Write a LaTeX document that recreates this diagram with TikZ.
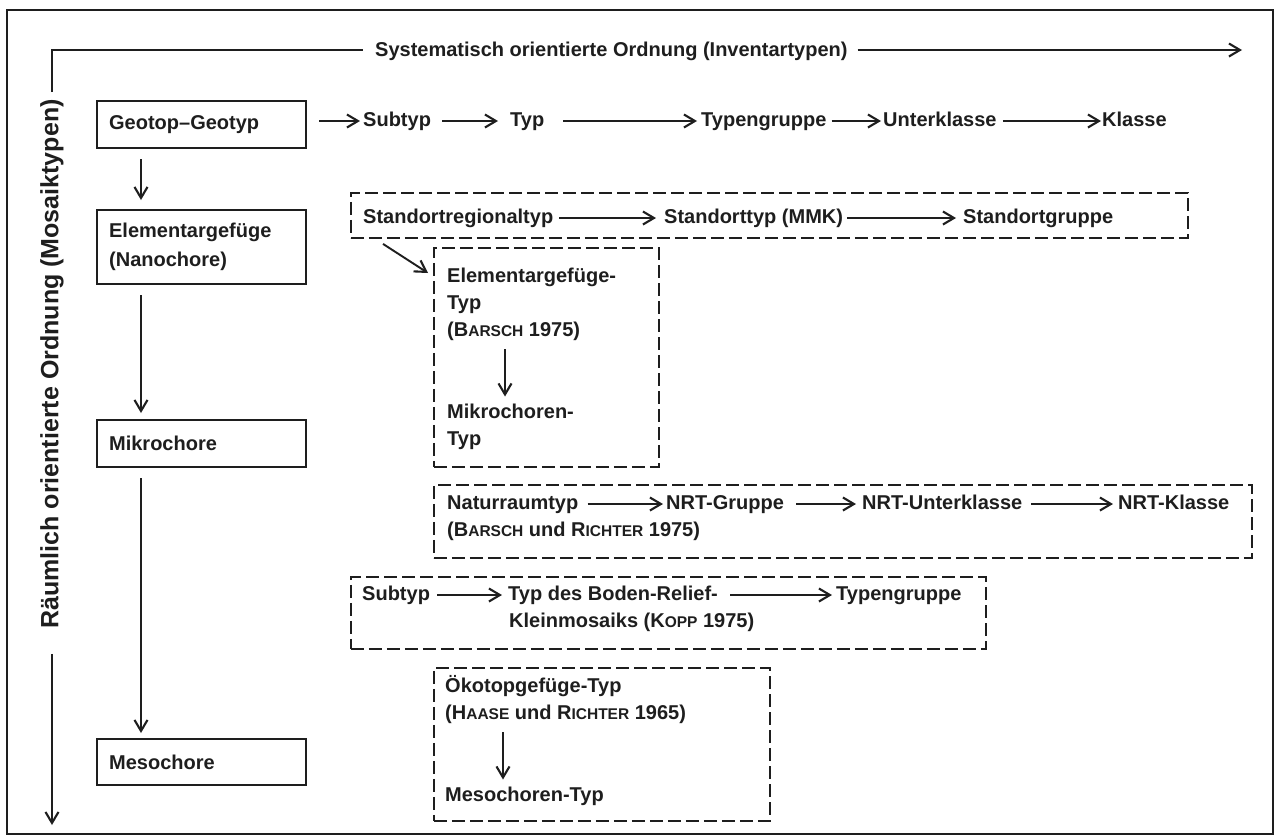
\documentclass[tikz,border=0pt]{standalone}
\usepackage{fontspec}
\setmainfont{Liberation Sans}
\usetikzlibrary{arrows.meta,calc}
\definecolor{ink}{HTML}{1E1E1E}
\newcommand\smc[1]{{\fontsize{15.5}{15.5}\selectfont #1}}
\begin{document}
\begin{tikzpicture}[x=1pt,y=-1pt,
  every node/.style={text=ink, font=\fontsize{20}{27}\selectfont\bfseries},
  solidbox/.style={draw=ink, line width=2.3pt, rectangle, anchor=north west,
    minimum width=209pt, text width=185pt, inner xsep=12pt, inner ysep=0pt, align=left},
  dbox/.style={draw=ink, line width=1.9pt, dash pattern=on 13pt off 5pt, rectangle,
    anchor=north west, inner sep=0pt},
  lbl/.style={anchor=west, inner sep=0pt, text height=14.5pt, text depth=4pt},
  mtext/.style={anchor=north west, inner sep=0pt, align=left},
  arr/.style={draw=ink, line width=1.9pt, -{Straight Barb[length=11pt,width=13pt,line width=2.1pt]}},
  lline/.style={draw=ink, line width=2.3pt}
]
\useasboundingbox (0,0) rectangle (1279,836);
\fill[white] (0,0) rectangle (1279,836);
% outer frame
\draw[draw=ink, line width=2.5pt] (7,10) rectangle (1273,834);

% axes
\node[lbl] (sys) at (375,51) {Systematisch orientierte Ordnung (Inventartypen)};
\node[inner sep=0pt, rotate=90, font=\fontsize{25}{25}\selectfont\bfseries] (rau) at (52,364) {Räumlich orientierte Ordnung (Mosaiktypen)};
\coordinate (corner) at (52,50);
\coordinate (systip) at (1242,50);
\coordinate (rautip) at (52,825);
\draw[lline, shorten <=7pt] (rau.east) -- (corner) -- ([xshift=-12pt]sys.west |- corner);
\draw[arr, line width=2.3pt, shorten <=10pt] (sys.east |- systip) -- (systip);
\draw[arr, line width=2.3pt, shorten <=25pt] (rau.west) -- (rautip);

% left column
\node[solidbox, minimum height=47pt] (geo) at (96,100) {Geotop–Geotyp};
\node[solidbox, minimum height=74pt, font=\fontsize{20}{29}\selectfont\bfseries] (ele) at (96,209) {Elementargefüge\\(Nanochore)};
\node[solidbox, minimum height=47pt] (mik) at (96,419) {Mikrochore};
\node[solidbox, minimum height=46pt] (mes) at (96,738) {Mesochore};
\coordinate (ax) at (141,0);
\draw[arr, shorten <=10pt, shorten >=9pt] (geo.south -| ax) -- (ele.north -| ax);
\draw[arr, shorten <=10pt, shorten >=6pt] (ele.south -| ax) -- (mik.north -| ax);
\draw[arr, shorten <=10pt, shorten >=5pt] (mik.south -| ax) -- (mes.north -| ax);

% row 1
\node[lbl] (r1a) at (363,121) {Subtyp};
\node[lbl] (r1b) at (510,121) {Typ};
\node[lbl] (r1c) at (701,121) {Typengruppe};
\node[lbl] (r1d) at (883,121) {Unterklasse};
\node[lbl] (r1e) at (1102,121) {Klasse};
\draw[arr, shorten <=12pt, shorten >=3pt] (geo.east |- r1a.west) -- (r1a.west);
\draw[arr, shorten <=11pt, shorten >=12pt] (r1a.east) -- (r1b.west);
\draw[arr, shorten <=19pt, shorten >=4pt] (r1b.east) -- (r1c.west);
\draw[arr, shorten <=5pt, shorten >=2pt] (r1c.east) -- (r1d.west);
\draw[arr, shorten <=6pt, shorten >=1pt] (r1d.east) -- (r1e.west);

% Standort box
\node[dbox, minimum width=837pt, minimum height=45pt] (stb) at (350,192) {};
\node[lbl] (st1) at (363,218) {Standortregionaltyp};
\node[lbl] (st2) at (664,218) {Standorttyp (MMK)};
\node[lbl] (st3) at (963,218) {Standortgruppe};
\draw[arr, shorten <=6pt, shorten >=8pt] (st1.east) -- (st2.west);
\draw[arr, shorten <=4pt, shorten >=7pt] (st2.east) -- (st3.west);

% Elementargefuege-Typ box
\node[dbox, minimum width=225pt, minimum height=219pt] (egb) at (433,247) {};
\draw[arr] ($(stb.south west)+(33,5)$) -- ($(egb.north west)+(-5,26)$);
\node[mtext] (egt) at (447,264.5) {\rule{0pt}{18pt}Elementargefüge-\\Typ\\(B\smc{ARSCH} 1975)};
\node[mtext] (mkt) at (447,400.5) {\rule{0pt}{18pt}Mikrochoren-\\Typ};
\coordinate (ex) at (505,0);
\draw[arr, shorten <=8pt, shorten >=4pt] (egt.south -| ex) -- (mkt.north -| ex);

% NRT box
\node[dbox, minimum width=818pt, minimum height=73pt] (nrb) at (433,484) {};
\node[lbl] (nr1) at (447,504) {Naturraumtyp};
\node[lbl] (nr2) at (666,504) {NRT-Gruppe};
\node[lbl] (nr3) at (862,504) {NRT-Unterklasse};
\node[lbl] (nr4) at (1118,504) {NRT-Klasse};
\node[lbl] (nr5) at (447,531) {(B\smc{ARSCH} und R\smc{ICHTER} 1975)};
\draw[arr, shorten <=9pt, shorten >=3pt] (nr1.east) -- (nr2.west);
\draw[arr, shorten <=12pt, shorten >=6pt] (nr2.east) -- (nr3.west);
\draw[arr, shorten <=9pt, shorten >=5pt] (nr3.east) -- (nr4.west);

% Kopp box
\node[dbox, minimum width=635pt, minimum height=72pt] (kpb) at (350,576) {};
\node[lbl] (kp1) at (362,595) {Subtyp};
\node[lbl] (kp2) at (508,595) {Typ des Boden-Relief-};
\node[lbl] (kp3) at (836,595) {Typengruppe};
\node[lbl] (kp4) at (509,622) {Kleinmosaiks (K\smc{OPP} 1975)};
\draw[arr, shorten <=7pt, shorten >=6pt] (kp1.east) -- (kp2.west);
\draw[arr, shorten <=12pt, shorten >=4pt] (kp2.east) -- (kp3.west);

% Oekotop box
\node[dbox, minimum width=336pt, minimum height=153pt] (okb) at (433,667) {};
\node[mtext] (okt) at (445,674.5) {\rule{0pt}{18pt}Ökotopgefüge-Typ\\(H\smc{AASE} und R\smc{ICHTER} 1965)};
\node[mtext] (mst) at (445,783.5) {\rule{0pt}{18pt}Mesochoren-Typ};
\coordinate (ox) at (503,0);
\draw[arr, shorten <=8pt, shorten >=4pt] (okt.south -| ox) -- (mst.north -| ox);
\end{tikzpicture}
\end{document}
